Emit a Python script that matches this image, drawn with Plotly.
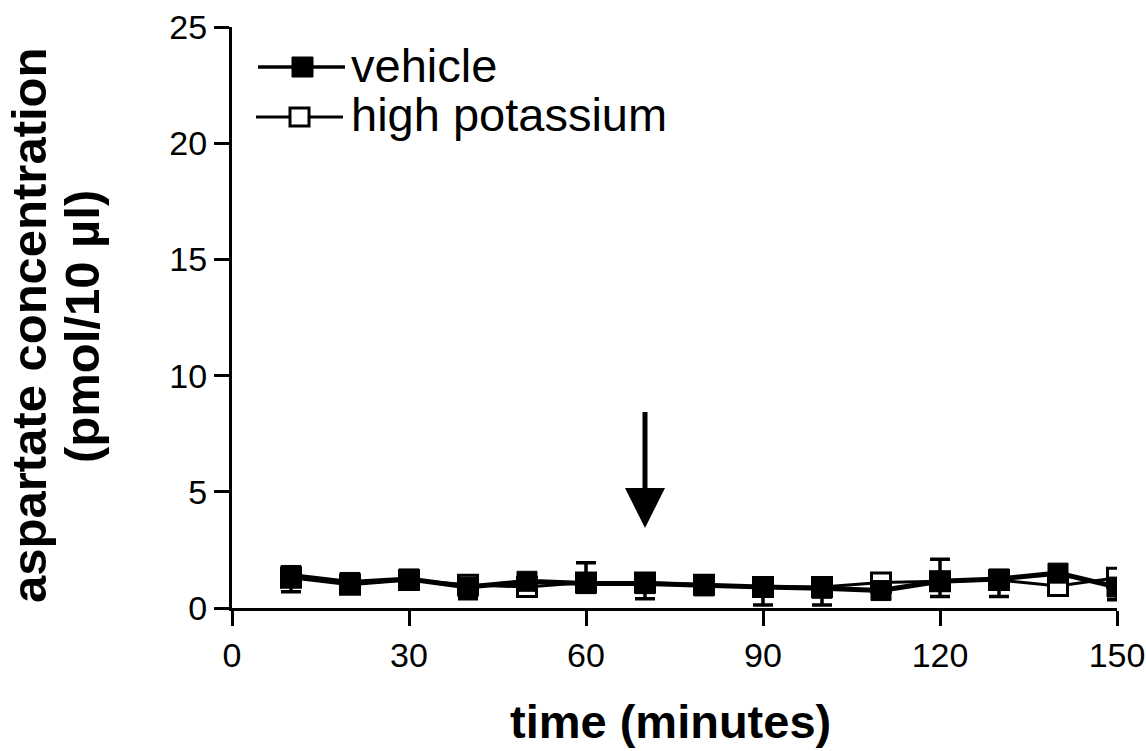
import plotly.graph_objects as go

time_min = [10, 20, 30, 40, 50, 60, 70, 80, 90, 100, 110, 120, 130, 140, 150]
vehicle = [1.4, 1.1, 1.25, 0.9, 1.15, 1.05, 1.05, 0.95, 0.9, 0.85, 0.75, 1.15, 1.25, 1.5, 0.9]
vehicle_sem = [0.7, 0.4, 0.3, 0.5, 0.3, 0.3, 0.65, 0.3, 0.77, 0.72, 0.3, 0.65, 0.75, 0.3, 0.55]
high_k = [1.3, 1.0, 1.2, 1.0, 0.9, 1.1, 1.1, 1.0, 0.9, 0.9, 1.1, 1.15, 1.2, 0.95, 1.3]
high_k_sem = [0.3, 0.3, 0.3, 0.3, 0.3, 0.85, 0.3, 0.2, 0.3, 0.3, 0.3, 0.95, 0.3, 0.3, 0.2]
no_err = [0] * len(time_min)

arrow_x = 70
arrow_from = 8.5
arrow_to = 3.44

font = "Liberation Sans, Arial, sans-serif"

# plot-area geometry helpers (pixels -> paper)
L, R, T, B = 232, 1117, 27, 608
def px(x):
    return (x - L) / (R - L)
def py(y):
    return (B - y) / (B - T)

fig = go.Figure()
fig.add_trace(go.Scatter(
    x=time_min, y=high_k, name="high potassium", mode="lines+markers",
    line=dict(color="black", width=3),
    marker=dict(symbol="square", size=19, color="white", line=dict(color="black", width=3)),
    error_y=dict(type="data", symmetric=False, array=high_k_sem, arrayminus=no_err,
                 color="black", thickness=3.5, width=10),
    showlegend=False,
))
fig.add_trace(go.Scatter(
    x=time_min, y=vehicle, name="vehicle", mode="lines+markers",
    line=dict(color="black", width=5),
    marker=dict(symbol="square", size=20, color="black", line=dict(color="black", width=1)),
    error_y=dict(type="data", symmetric=False, array=no_err, arrayminus=vehicle_sem,
                 color="black", thickness=3.5, width=10),
    showlegend=False,
))

fig.add_annotation(
    x=arrow_x, y=arrow_to, ax=arrow_x, ay=arrow_from, axref="x", ayref="y",
    xref="x", yref="y", showarrow=True, arrowhead=2, arrowsize=1.6, arrowwidth=5,
    arrowcolor="black", text="",
)

# manual legend
shapes = [
    dict(type="line", xref="paper", yref="paper", x0=px(258), x1=px(345), y0=py(67), y1=py(67),
         line=dict(color="black", width=3.5)),
    dict(type="rect", xref="paper", yref="paper", x0=px(292), x1=px(313), y0=py(77), y1=py(57),
         line=dict(color="black", width=1), fillcolor="black"),
    dict(type="line", xref="paper", yref="paper", x0=px(256), x1=px(343), y0=py(117), y1=py(117),
         line=dict(color="black", width=3)),
    dict(type="rect", xref="paper", yref="paper", x0=px(290), x1=px(309), y0=py(126), y1=py(108),
         line=dict(color="black", width=3), fillcolor="white"),
]
fig.add_annotation(x=px(349), y=py(65), xref="paper", yref="paper", text="vehicle",
                   showarrow=False, xanchor="left", yanchor="middle", font=dict(size=47))
fig.add_annotation(x=px(349), y=py(114), xref="paper", yref="paper", text="high potassium",
                   showarrow=False, xanchor="left", yanchor="middle", font=dict(size=47))

# axis titles
fig.add_annotation(x=px(29), y=py(325), xref="paper", yref="paper",
                   text="<b>aspartate concentration</b>", textangle=-90, showarrow=False,
                   xanchor="center", yanchor="middle", font=dict(size=49))
fig.add_annotation(x=px(82), y=py(327), xref="paper", yref="paper",
                   text="<b>(pmol/10 µl)</b>", textangle=-90, showarrow=False,
                   xanchor="center", yanchor="middle", font=dict(size=49))
fig.add_annotation(x=px(670), y=py(721), xref="paper", yref="paper",
                   text="<b>time (minutes)</b>", showarrow=False,
                   xanchor="center", yanchor="middle", font=dict(size=47))

fig.update_layout(
    width=1146, height=751,
    margin=dict(l=L, r=1146 - R, t=T, b=751 - B),
    paper_bgcolor="white", plot_bgcolor="white",
    font=dict(family=font, color="black", size=34),
    showlegend=False,
    shapes=shapes,
    xaxis=dict(
        range=[0, 150], tickvals=[0, 30, 60, 90, 120, 150],
        showline=True, linecolor="black", linewidth=3, mirror=False,
        ticks="outside", ticklen=15, tickwidth=3, tickcolor="black",
        showgrid=False, zeroline=False, tickfont=dict(size=34),
        ticklabeloverflow="allow", automargin=False,
    ),
    yaxis=dict(
        range=[0, 25], tickvals=[0, 5, 10, 15, 20, 25],
        showline=True, linecolor="black", linewidth=3,
        ticks="outside", ticklen=15, tickwidth=3, tickcolor="black",
        showgrid=False, zeroline=False, tickfont=dict(size=34),
        ticklabeloverflow="allow", automargin=False,
    ),
)

fig.write_html("out.html")
